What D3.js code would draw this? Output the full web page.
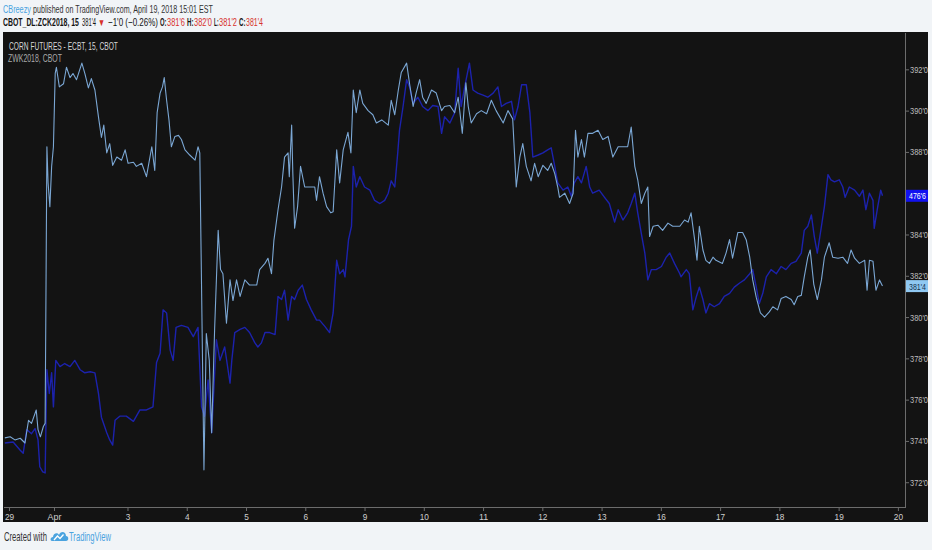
<!DOCTYPE html>
<html>
<head>
<meta charset="utf-8">
<script src="https://cdn.jsdelivr.net/npm/d3@7"></script>
<style>
  html, body { margin: 0; padding: 0; background: #f1f4f7; }
  svg { display: block; }
</style>
</head>
<body>
<svg id="chart" width="932" height="550"></svg>
<script>
// Session ticks: position in trading days from Mar 29, and their labels
const dayTicks = [0, 0.76, 2, 3, 4, 5, 6, 7, 8, 9, 10, 11, 12, 13, 14, 15];
const dayLabels = ['29', 'Apr', '3', '4', '5', '6', '9', '10', '11', '12', '13', '16', '17', '18', '19', '20'];

// Right price scale (corn, cents)
const priceTicks = [372, 374, 376, 378, 380, 382, 384, 386, 388, 390, 392];

// Last bar of ZCK2018 and the previous close
const barOHLC = [381.75, 382.0, 381.25, 381.5];
const prevClose = 382.5;

// ZCK2018 corn, 15 min: [trading day, price]
const cornSeries = [
  [-0.07, 374.15], [0.02, 374.2], [0.10, 374.05], [0.19, 374.13], [0.27, 373.9], [0.33, 375.0],
  [0.38, 374.85], [0.46, 375.5], [0.49, 374.55], [0.53, 374.2], [0.58, 374.7], [0.61, 374.85],
  [0.64, 388.25], [0.66, 386.5], [0.69, 385.35], [0.72, 387.3], [0.75, 388.25], [0.78, 391.8],
  [0.80, 392.1], [0.85, 391.15], [0.92, 391.3], [0.97, 392.1], [1.03, 391.6], [1.08, 391.8],
  [1.14, 391.5], [1.23, 392.3], [1.28, 391.8], [1.34, 391.1], [1.39, 391.55], [1.45, 391.0],
  [1.51, 389.7], [1.56, 388.7], [1.60, 389.3], [1.65, 387.95], [1.70, 388.4], [1.75, 387.35],
  [1.82, 387.75], [1.90, 387.6], [1.96, 388.1], [2.01, 387.45], [2.10, 387.5], [2.15, 387.3],
  [2.24, 387.45], [2.32, 386.8], [2.41, 388.25], [2.46, 387.1], [2.50, 389.9], [2.55, 390.85],
  [2.59, 391.15], [2.62, 391.6], [2.66, 390.5], [2.70, 389.55], [2.74, 388.25], [2.80, 388.75],
  [2.86, 388.8], [2.91, 388.6], [2.97, 388.1], [3.05, 387.85], [3.14, 387.6], [3.19, 388.25],
  [3.22, 387.95], [3.29, 372.6], [3.33, 379.2], [3.38, 377.9], [3.42, 374.4], [3.47, 379.4],
  [3.53, 384.2], [3.57, 382.3], [3.61, 382.1], [3.67, 379.7], [3.73, 381.8], [3.78, 380.8],
  [3.84, 381.8], [3.90, 381.0], [3.98, 381.8], [4.06, 381.55], [4.18, 381.55], [4.23, 382.3],
  [4.32, 382.6], [4.37, 382.85], [4.43, 382.1], [4.47, 383.7], [4.54, 385.2], [4.60, 386.3],
  [4.65, 387.75], [4.71, 387.95], [4.73, 386.8], [4.77, 389.3], [4.79, 386.95], [4.82, 384.3],
  [4.87, 385.35], [4.92, 387.3], [4.99, 386.3], [5.08, 386.3], [5.16, 386.3], [5.19, 385.65],
  [5.24, 386.8], [5.30, 386.0], [5.36, 385.35], [5.43, 385.05], [5.47, 385.1], [5.53, 388.1],
  [5.58, 386.5], [5.64, 388.1], [5.72, 388.95], [5.77, 387.95], [5.81, 391.0], [5.86, 389.9],
  [5.92, 391.0], [5.97, 390.35], [6.06, 390.0], [6.14, 389.8], [6.20, 389.4], [6.29, 389.55],
  [6.40, 389.3], [6.45, 390.5], [6.51, 389.8], [6.57, 391.0], [6.62, 391.85], [6.71, 392.3],
  [6.76, 391.3], [6.82, 390.2], [6.87, 390.85], [6.93, 391.5], [6.98, 390.65], [7.04, 390.35],
  [7.13, 391.0], [7.21, 390.85], [7.30, 390.0], [7.35, 390.2], [7.44, 390.25], [7.52, 389.9],
  [7.58, 390.65], [7.65, 388.9], [7.71, 391.35], [7.75, 390.2], [7.80, 389.4], [7.89, 389.85],
  [7.97, 390.0], [8.06, 389.85], [8.14, 390.5], [8.22, 390.0], [8.34, 389.4], [8.42, 390.0],
  [8.50, 389.6], [8.56, 386.3], [8.62, 387.75], [8.67, 388.4], [8.73, 387.3], [8.81, 386.6],
  [8.87, 387.45], [8.93, 386.8], [9.01, 387.35], [9.09, 387.1], [9.15, 387.45], [9.21, 386.95],
  [9.26, 386.3], [9.29, 385.8], [9.38, 386.0], [9.46, 385.5], [9.52, 386.0], [9.56, 389.05],
  [9.60, 387.75], [9.66, 388.6], [9.71, 387.75], [9.77, 388.9], [9.85, 388.9], [9.94, 389.05],
  [10.02, 388.6], [10.11, 388.75], [10.19, 387.75], [10.28, 388.25], [10.36, 388.25], [10.44, 388.25],
  [10.50, 389.2], [10.56, 387.3], [10.61, 386.65], [10.67, 385.5], [10.73, 386.0], [10.78, 386.3],
  [10.81, 383.9], [10.87, 384.4], [10.95, 384.45], [11.03, 384.2], [11.12, 384.55], [11.20, 384.4],
  [11.32, 384.4], [11.40, 384.7], [11.46, 384.6], [11.51, 385.05], [11.57, 383.75], [11.61, 382.75],
  [11.65, 384.4], [11.71, 383.25], [11.76, 382.75], [11.82, 382.6], [11.88, 382.9], [11.93, 382.75],
  [12.04, 382.6], [12.10, 383.1], [12.16, 383.75], [12.21, 382.85], [12.30, 384.1], [12.38, 384.1],
  [12.44, 383.75], [12.50, 382.9], [12.55, 381.8], [12.61, 380.95], [12.68, 380.2], [12.75, 380.0],
  [12.83, 380.25], [12.89, 380.5], [12.97, 380.35], [13.03, 380.9], [13.11, 381.0], [13.20, 380.85],
  [13.25, 380.6], [13.31, 381.0], [13.37, 381.05], [13.42, 381.95], [13.48, 382.9], [13.52, 383.25],
  [13.58, 381.6], [13.64, 380.85], [13.71, 381.8], [13.76, 382.9], [13.84, 383.6], [13.90, 382.9],
  [13.99, 382.85], [14.07, 382.9], [14.15, 382.6], [14.21, 383.25], [14.27, 382.85], [14.35, 382.6],
  [14.44, 382.75], [14.48, 381.3], [14.52, 382.75], [14.58, 382.7], [14.63, 381.3], [14.69, 381.8],
  [14.74, 381.5]
];

// ZWK2018 wheat overlay (own hidden scale): [trading day, price]
const wheatSeries = [
  [-0.07, 452.8], [0.07, 452.9], [0.19, 452.1], [0.24, 451.8], [0.30, 454.1], [0.38, 453.7],
  [0.44, 454.2], [0.49, 453.1], [0.52, 450.5], [0.57, 450.0], [0.61, 449.9], [0.64, 459.9],
  [0.68, 457.6], [0.72, 459.6], [0.75, 456.3], [0.79, 460.8], [0.86, 460.2], [0.94, 460.5],
  [1.03, 460.2], [1.11, 460.8], [1.20, 459.9], [1.28, 459.6], [1.37, 459.7], [1.45, 459.6],
  [1.51, 457.6], [1.56, 455.3], [1.65, 453.8], [1.70, 453.1], [1.75, 452.6], [1.79, 455.0],
  [1.87, 455.4], [1.98, 455.4], [2.10, 454.9], [2.21, 456.0], [2.32, 456.0], [2.43, 456.3],
  [2.49, 460.6], [2.55, 461.5], [2.60, 465.7], [2.66, 465.4], [2.72, 461.8], [2.77, 460.8],
  [2.82, 464.0], [2.91, 464.2], [3.02, 464.0], [3.11, 463.1], [3.19, 464.0], [3.25, 456.3],
  [3.30, 455.4], [3.36, 458.9], [3.42, 453.8], [3.50, 462.8], [3.56, 460.8], [3.64, 462.1],
  [3.73, 458.6], [3.76, 460.8], [3.81, 463.5], [3.90, 463.8], [3.98, 464.0], [4.06, 463.5],
  [4.15, 462.5], [4.20, 462.1], [4.26, 462.5], [4.32, 463.5], [4.40, 463.5], [4.49, 463.3],
  [4.54, 467.0], [4.60, 466.7], [4.65, 467.6], [4.71, 464.7], [4.77, 467.0], [4.82, 466.7],
  [4.88, 467.6], [4.95, 468.1], [5.02, 466.7], [5.10, 465.7], [5.19, 464.7], [5.24, 464.7],
  [5.33, 464.1], [5.41, 463.5], [5.47, 465.4], [5.53, 470.5], [5.58, 469.2], [5.64, 469.6],
  [5.67, 468.9], [5.73, 472.5], [5.78, 473.8], [5.81, 479.6], [5.86, 477.6], [5.92, 478.6],
  [6.00, 477.6], [6.09, 477.3], [6.17, 476.3], [6.26, 476.0], [6.34, 476.3], [6.40, 477.0],
  [6.45, 478.2], [6.51, 477.6], [6.56, 480.9], [6.59, 483.1], [6.65, 485.4], [6.71, 488.0],
  [6.76, 487.3], [6.82, 485.7], [6.90, 486.3], [6.98, 485.4], [7.07, 485.0], [7.15, 485.5],
  [7.24, 485.4], [7.30, 482.8], [7.35, 484.4], [7.44, 483.8], [7.52, 484.8], [7.58, 489.1],
  [7.63, 485.4], [7.69, 487.3], [7.77, 489.6], [7.83, 487.0], [7.91, 486.7], [8.00, 486.5],
  [8.08, 486.3], [8.17, 486.7], [8.25, 487.3], [8.31, 485.4], [8.39, 485.7], [8.48, 485.9],
  [8.53, 484.1], [8.59, 485.4], [8.65, 487.5], [8.73, 487.5], [8.79, 484.8], [8.84, 480.5],
  [8.93, 480.7], [9.01, 480.9], [9.09, 481.2], [9.15, 481.4], [9.21, 479.6], [9.26, 478.0],
  [9.35, 477.3], [9.43, 477.6], [9.49, 476.7], [9.54, 478.0], [9.60, 478.6], [9.66, 478.0],
  [9.74, 479.6], [9.80, 477.6], [9.85, 477.0], [9.96, 477.3], [10.05, 476.6], [10.13, 476.0],
  [10.22, 474.2], [10.28, 475.4], [10.36, 474.4], [10.44, 475.1], [10.50, 476.0], [10.56, 477.0],
  [10.61, 475.1], [10.67, 473.1], [10.73, 471.2], [10.78, 468.6], [10.84, 469.6], [10.92, 469.6],
  [11.01, 469.9], [11.09, 470.8], [11.15, 471.2], [11.23, 470.2], [11.32, 469.2], [11.34, 468.9],
  [11.43, 469.6], [11.48, 469.2], [11.54, 465.7], [11.60, 467.0], [11.65, 467.9], [11.71, 466.7],
  [11.76, 465.4], [11.82, 466.3], [11.90, 466.0], [11.99, 466.3], [12.07, 467.0], [12.16, 467.3],
  [12.24, 467.9], [12.33, 468.3], [12.41, 468.6], [12.50, 469.2], [12.55, 469.6], [12.61, 467.9],
  [12.66, 466.3], [12.72, 467.3], [12.78, 468.9], [12.86, 469.6], [12.95, 469.2], [13.03, 469.9],
  [13.11, 469.6], [13.20, 470.2], [13.28, 470.4], [13.37, 471.2], [13.42, 473.4], [13.48, 473.8],
  [13.54, 474.9], [13.59, 472.8], [13.64, 471.2], [13.71, 473.8], [13.76, 475.7], [13.82, 478.8],
  [13.87, 478.3], [13.93, 478.1], [14.01, 478.3], [14.07, 477.6], [14.11, 476.6], [14.18, 477.6],
  [14.27, 477.3], [14.35, 476.7], [14.41, 477.3], [14.46, 475.4], [14.52, 477.0], [14.58, 476.3],
  [14.60, 473.6], [14.66, 475.7], [14.71, 477.3], [14.74, 476.75]
];

// CBOT quote style: whole cents ' eighths
function fmt(p) {
  const whole = Math.floor(p + 1e-9);
  return whole + "'" + Math.round((p - whole) * 8);
}

const font = '"Liberation Sans", Arial, sans-serif';
const plot = { left: 4, right: 905, top: 33, bottom: 507 };

const svg = d3.select('#chart');

const x = d3.scaleLinear().domain([-0.084, 15.12]).range([plot.left, plot.right]);
const y = d3.scaleLinear().domain([370.8, 393.76]).range([plot.bottom, plot.top]);
// the wheat overlay gets its own (unlabelled) scale
const y2 = d3.scaleLinear().domain([446.6, 492.52]).range([plot.bottom, plot.top]);

// The snapshot uses a narrow face: squeeze text horizontally with a scale
// transform so that its box really is that narrow.
function squeeze(text, width) {
  const natural = text.node().getComputedTextLength();
  const k = Math.min(1, width / natural);
  const prev = text.attr('transform') || '';
  text.attr('transform', `${prev} scale(${k},1)`);
}

function label(str, x0, x1, baseline, size, color, bold) {
  const t = svg.append('text')
    .attr('transform', `translate(${x0},${baseline})`)
    .attr('font-family', font).attr('font-size', size)
    .attr('font-weight', bold ? 'bold' : null)
    .attr('fill', color)
    .text(str);
  squeeze(t, x1 - x0);
  return t;
}

// header
const last = cornSeries[cornSeries.length - 1][1];
const change = last - prevClose;
const pct = Math.abs(change / prevClose * 100).toFixed(2);
const red = '#d7312c';
const ink = '#131313';

label('CBreezy', 3, 31, 13, 11, '#4aa3df');
label('published on TradingView.com, April 19, 2018 15:01 EST', 33, 213, 13, 11, '#333');

label('CBOT_DL:ZCK2018, 15', 3, 79, 26, 11, ink, true);
label(fmt(last), 82, 96, 26, 11, ink);
label('▼', 98, 105, 26, 10, red);
label('\u2212' + fmt(Math.abs(change)) + ' (\u2212' + pct + '%)', 108, 158, 26, 11, ink);
const ohlcX = [[160, 166.5, 185], [187, 193.5, 212], [214, 218.5, 237], [239, 245.5, 263]];
['O:', 'H:', 'L:', 'C:'].forEach((k, i) => {
  const [a, b, c] = ohlcX[i];
  label(k, a, b, 26, 11, ink, true);
  label(fmt(barOHLC[i]), b + 0.5, c, 26, 11, red);
});

// dark chart panel
svg.append('rect')
  .attr('x', 3).attr('y', 32).attr('width', 925).attr('height', 490)
  .attr('fill', '#131313');

svg.append('clipPath').attr('id', 'clip')
  .append('rect')
  .attr('x', plot.left).attr('y', plot.top)
  .attr('width', plot.right - plot.left).attr('height', plot.bottom - plot.top);

const lines = svg.append('g').attr('clip-path', 'url(#clip)');

lines.append('path')
  .datum(wheatSeries)
  .attr('fill', 'none')
  .attr('stroke', '#1c22ad')
  .attr('stroke-width', 1.4)
  .attr('stroke-linejoin', 'round')
  .attr('d', d3.line().x(d => x(d[0])).y(d => y2(d[1])));

lines.append('path')
  .datum(cornSeries)
  .attr('fill', 'none')
  .attr('stroke', '#7ba7d4')
  .attr('stroke-width', 1.1)
  .attr('stroke-linejoin', 'round')
  .attr('d', d3.line().x(d => x(d[0])).y(d => y(d[1])));

// legend text inside the panel
label('CORN FUTURES - ECBT, 15, CBOT', 9, 118, 50, 11, '#d6d6d6');
label('ZWK2018, CBOT', 8, 62, 62, 11, '#a9a9a9');

// frame lines
svg.append('line')
  .attr('x1', plot.right + 0.5).attr('x2', plot.right + 0.5)
  .attr('y1', plot.top).attr('y2', plot.bottom)
  .attr('stroke', '#6c6c6c');
svg.append('line')
  .attr('x1', plot.left).attr('x2', plot.right + 1)
  .attr('y1', plot.bottom + 0.5).attr('y2', plot.bottom + 0.5)
  .attr('stroke', '#6c6c6c');

// time axis
const xAxis = svg.append('g')
  .attr('transform', `translate(0,${plot.bottom + 1})`)
  .call(d3.axisBottom(x)
    .tickValues(dayTicks)
    .tickFormat(d => dayLabels[dayTicks.indexOf(d)])
    .tickSize(3)
    .tickPadding(2));
xAxis.select('.domain').remove();
xAxis.selectAll('line').attr('stroke', '#6c6c6c');
xAxis.selectAll('.tick text')
  .attr('font-family', font).attr('font-size', 9.5).attr('fill', '#cfcfcf')
  .each(function(d) {
    const t = d3.select(this);
    squeeze(t, dayLabels[dayTicks.indexOf(d)].length * 4.6);
  });

// price axis
const yAxis = svg.append('g')
  .attr('transform', `translate(${plot.right + 1},0)`)
  .call(d3.axisRight(y)
    .tickValues(priceTicks)
    .tickFormat(fmt)
    .tickSize(3)
    .tickPadding(2));
yAxis.select('.domain').remove();
yAxis.selectAll('line').attr('stroke', '#6c6c6c');
yAxis.selectAll('.tick text')
  .attr('font-family', font).attr('font-size', 9.5).attr('fill', '#bdbdbd')
  .attr('x', null)
  .attr('transform', 'translate(4,0)')
  .each(function() { squeeze(d3.select(this), 18); });

// last value markers on the price scale
const markers = [
  { v: wheatSeries[wheatSeries.length - 1][1], scale: y2, bg: '#1212f0', fg: '#ffffff' },
  { v: last, scale: y, bg: '#8fc8f2', fg: '#14324f' }
];
markers.forEach(m => {
  const cy = m.scale(m.v);
  svg.append('rect')
    .attr('x', plot.right + 1).attr('y', cy - 6)
    .attr('width', 22).attr('height', 12)
    .attr('fill', m.bg);
  label(fmt(m.v), plot.right + 4, plot.right + 21, cy + 3.5, 9.5, m.fg);
});

// footer
label('Created with', 4, 47, 541, 12, '#333');
const logo = svg.append('g').attr('transform', 'translate(51,530)');
logo.append('path')
  .attr('d', 'M1,11 C-1,11 -1,7 2,7 C2,3 7,2 8,5 C9,1 15,1 15,6 C18,6 18,11 15,11 Z')
  .attr('fill', '#4aa3df');
logo.append('path')
  .attr('d', 'M3,10 L6.5,6 L9,8.5 L12.5,4.5')
  .attr('fill', 'none').attr('stroke', '#fff').attr('stroke-width', 1.3);
label('TradingView', 69, 111, 541, 12, '#4aa3df');
</script>
</body>
</html>
